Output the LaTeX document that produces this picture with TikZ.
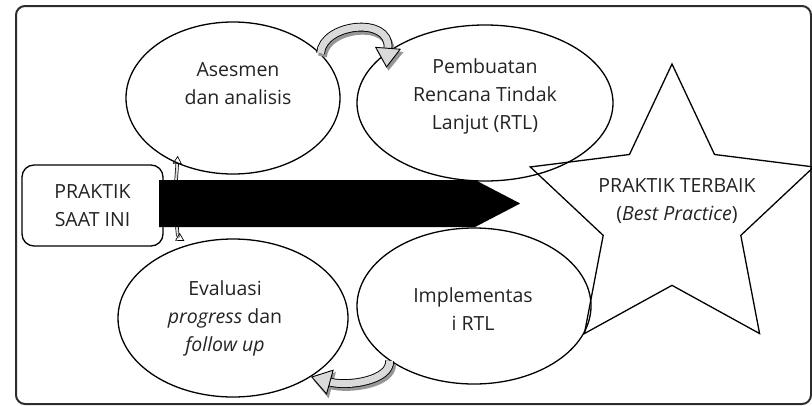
\documentclass[tikz,border=0pt]{standalone}
\usepackage{fontspec}
\setmainfont{Open Sans}
\usetikzlibrary{
    arrows.meta,
    calc,
    positioning,
    shapes.geometric,
    shapes.arrows
}
\definecolor{framegray}{RGB}{45,45,45}
\definecolor{textgray}{RGB}{35,35,35}
\definecolor{arrowgray}{RGB}{218,218,218}
\definecolor{shadowgray}{RGB}{150,150,150}
\newcommand{\labelfont}{\fontsize{19.5}{28}\selectfont}
\tikzset{
    % Box styles
    frame box/.style={
        draw=framegray,
        line width=2pt,
        rounded corners=9pt
    },
    start box/.style={
        draw=black,
        line width=1.3pt,
        rectangle,
        rounded corners=12pt,
        minimum width=141pt,
        minimum height=81pt,
        align=center,
        font=\labelfont,
        text=textgray
    },
    cycle node/.style={
        draw=black,
        line width=1.3pt,
        ellipse,
        inner sep=0pt
    },
    goal star/.style={
        draw=black,
        line width=1.3pt,
        star,
        star points=5,
        star point ratio=2.06,
        minimum size=298pt,
        inner sep=0pt
    },
    label text/.style={
        font=\labelfont,
        text=textgray,
        align=center,
        inner sep=0pt
    },
    % Arrow styles
    main arrow/.style={
        single arrow,
        fill=black,
        draw=none,
        minimum height=361pt,
        minimum width=47pt,
        single arrow head extend=0pt,
        single arrow tip angle=55,
        inner sep=0pt
    },
    turn arrow/.style={
        draw=black,
        line width=0.9pt,
        double=arrowgray,
        double distance=7pt,
        -{Triangle[length=20pt, width=26pt, fill=arrowgray]}
    },
    turn shadow/.style={
        draw=shadowgray,
        line width=8.8pt,
        -{Triangle[length=20pt, width=26pt]},
        transform canvas={shift={(2pt,-3pt)}}
    },
    link arrow/.style={
        draw=black,
        line width=0.7pt,
        double=arrowgray,
        double distance=2pt,
        -{Triangle[open, length=8pt, width=9pt]}
    }
}

\begin{document}
\begin{tikzpicture}[x=1pt, y=1pt]
        \useasboundingbox (0,0) rectangle (812,-405);
        \draw[frame box] (16,-6) rectangle (811,-404);

        % Cycle
        \node[cycle node, minimum width=214pt, minimum height=152pt] at (233,-98) (asesmen) {};
        \node[cycle node, minimum width=256pt, minimum height=156pt] at (485,-103) (rencana) {};
        \node[cycle node, minimum width=230pt, minimum height=158pt] at (233,-318) (evaluasi) {};
        \node[cycle node, minimum width=234pt, minimum height=156pt] at (474,-306) (implementasi) {};

        \node[label text] at (238,-84) (asesmen text) {Asesmen\\dan analisis};
        \node[label text] at (485,-96) (rencana text) {Pembuatan\\Rencana Tindak\\Lanjut (RTL)};
        \node[label text] at (225,-318) (evaluasi text) {Evaluasi\\\textit{progress} dan\\\textit{follow up}};
        \node[label text] at (473,-309) (implementasi text) {Implementas\\i RTL};

        % Goal
        \node[goal star] at (672,-213) (terbaik) {};
        \node[label text] at (677,-201) (terbaik text) {PRAKTIK TERBAIK\\(\textit{Best Practice})};

        % Start
        \node[start box] at (92.5,-205.5) (saat) {PRAKTIK\\SAAT INI};
        \coordinate (naik) at (176,-182);
        \coordinate (turun) at (177,-225);
        \draw[link arrow] (naik) -- ([yshift=8pt]asesmen.230);
        \draw[link arrow] (turun) to[out=-90, in=150] ([yshift=5pt]evaluasi.124);
        \node[main arrow, anchor=tail] at (159,-203.5) (jalur) {};

        % Connections
        \draw[turn shadow] (asesmen.27) .. controls +(2,30) and +(4,52) .. ([shift={(12pt,-5pt)}]rencana.160);
        \draw[turn arrow] (asesmen.27) .. controls +(2,30) and +(4,52) .. ([shift={(12pt,-5pt)}]rencana.160);
        \draw[turn shadow] (implementasi.213) .. controls +(1,-20) and +(36,-10) .. (evaluasi.323);
        \draw[turn arrow] (implementasi.213) .. controls +(1,-20) and +(36,-10) .. (evaluasi.323);
    \end{tikzpicture}
\end{document}
